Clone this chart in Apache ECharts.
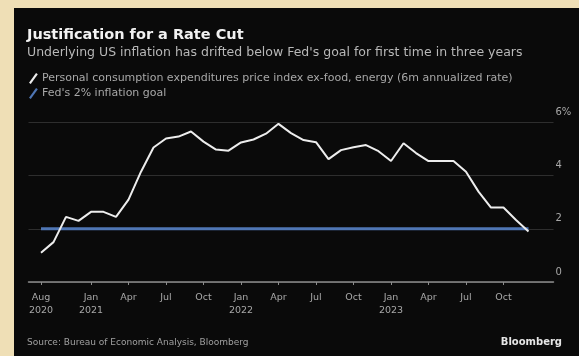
<!DOCTYPE html>
<html>
<head>
<meta charset="utf-8">
<script src="https://cdn.jsdelivr.net/npm/echarts@6/dist/echarts.min.js"></script>
<style>
  html, body { margin: 0; padding: 0; background: #efdfb6; }
  #chart { width: 579px; height: 356px; }
</style>
</head>
<body>
<div id="chart"></div>
<script>
// months of the monthly readings (plotted at month end)
const months = [
  '2020-08', '2020-09', '2020-10', '2020-11', '2020-12',
  '2021-01', '2021-02', '2021-03', '2021-04', '2021-05', '2021-06',
  '2021-07', '2021-08', '2021-09', '2021-10', '2021-11', '2021-12',
  '2022-01', '2022-02', '2022-03', '2022-04', '2022-05', '2022-06',
  '2022-07', '2022-08', '2022-09', '2022-10', '2022-11', '2022-12',
  '2023-01', '2023-02', '2023-03', '2023-04', '2023-05', '2023-06',
  '2023-07', '2023-08', '2023-09', '2023-10', '2023-11'
]
// core PCE, 6m annualized rate (%)
const corePce = [
  1.1, 1.5, 2.45, 2.3, 2.64,
  2.64, 2.45, 3.1, 4.15, 5.06, 5.4,
  5.47, 5.66, 5.28, 4.98, 4.94, 5.25,
  5.36, 5.58, 5.95, 5.6, 5.34, 5.26,
  4.62, 4.96, 5.07, 5.15, 4.92, 4.55,
  5.22, 4.85, 4.55, 4.55, 4.55, 4.15,
  3.4, 2.8, 2.8, 2.33, 1.9
]
// Fed's 2% goal, drawn across the data span
const fedGoal = [['2020-08', 2], ['2023-11', 2]]
// empty slots either side of the data
const padBefore = ['2020-07']
const padAfter = ['2023-12', '2024-01']
// tick labels (month-end point = start of the next month)
const tickLabels = {
  '2020-08': 'Aug\n2020',
  '2020-12': 'Jan\n2021',
  '2021-03': 'Apr',
  '2021-06': 'Jul',
  '2021-09': 'Oct',
  '2021-12': 'Jan\n2022',
  '2022-03': 'Apr',
  '2022-06': 'Jul',
  '2022-09': 'Oct',
  '2022-12': 'Jan\n2023',
  '2023-03': 'Apr',
  '2023-06': 'Jul',
  '2023-09': 'Oct'
}
const yTicks = [0, 2, 4, 6]

const categories = padBefore.concat(months, padAfter)
const pceData = months.map((m, i) => [m, corePce[i]])

const chart = echarts.init(document.getElementById('chart'))
const slash = 'path://M0,11 L8,0 L10,1.5 L2,12.5 Z'

chart.setOption({
  backgroundColor: '#efdfb6',
  animation: false,
  textStyle: { fontFamily: 'DejaVu Sans' },
  graphic: [
    { type: 'rect', left: 14, top: 8, shape: { width: 565, height: 348 }, style: { fill: '#0a0a0a' }, z: -10 }
  ],
  title: [
    {
      text: 'Justification for a Rate Cut',
      subtext: "Underlying US inflation has drifted below Fed's goal for first time in three years",
      left: 22,
      top: 23,
      itemGap: 3,
      textStyle: { color: '#f2f2f2', fontSize: 14.5, fontWeight: 'bold' },
      subtextStyle: { color: '#b8b8b8', fontSize: 12.5 }
    },
    {
      text: 'Source: Bureau of Economic Analysis, Bloomberg',
      left: 22,
      top: 333,
      textStyle: { color: '#a0a0a0', fontSize: 9, fontWeight: 'normal' }
    },
    {
      text: 'Bloomberg',
      right: 12,
      top: 332,
      textStyle: { color: '#e6e6e6', fontSize: 10, fontWeight: 'bold' }
    }
  ],
  legend: {
    orient: 'vertical',
    left: 24,
    top: 68,
    itemWidth: 9,
    itemHeight: 11,
    itemGap: 4,
    textStyle: { color: '#a8a8a8', fontSize: 11, padding: [0, 0, 0, -1] },
    data: [
      { name: 'Personal consumption expenditures price index ex-food, energy (6m annualized rate)', icon: slash },
      { name: "Fed's 2% inflation goal", icon: slash }
    ]
  },
  grid: { left: 28.5, right: 25.5, top: 122.5, bottom: 74 },
  xAxis: {
    type: 'category',
    data: categories,
    boundaryGap: false,
    axisLine: { lineStyle: { color: '#8c8c8c', width: 1.5 } },
    axisTick: {
      interval: (i, v) => v in tickLabels,
      length: 3,
      lineStyle: { color: '#8c8c8c' }
    },
    axisLabel: {
      interval: (i, v) => v in tickLabels,
      formatter: v => tickLabels[v] || '',
      color: '#a8a8a8',
      fontSize: 9.5,
      lineHeight: 13,
      margin: 9
    },
    splitLine: { show: false }
  },
  yAxis: {
    type: 'value',
    position: 'right',
    min: 0,
    max: 6,
    interval: 2,
    axisLine: { show: false },
    axisTick: { show: false },
    axisLabel: {
      formatter: v => (v === yTicks[yTicks.length - 1] ? v + '%' : String(v)),
      color: '#a8a8a8',
      fontSize: 10,
      align: 'left',
      verticalAlign: 'bottom',
      margin: 2,
      padding: [0, 0, 5, 0]
    },
    splitLine: { lineStyle: { color: '#2e2e2e', width: 1 } }
  },
  series: [
    {
      name: "Fed's 2% inflation goal",
      type: 'line',
      data: fedGoal,
      symbol: 'none',
      color: '#4f76b4',
      lineStyle: { color: '#4f76b4', width: 3 },
      z: 2
    },
    {
      name: 'Personal consumption expenditures price index ex-food, energy (6m annualized rate)',
      type: 'line',
      data: pceData,
      symbol: 'none',
      color: '#ededed',
      lineStyle: { color: '#ededed', width: 2 },
      z: 3
    }
  ]
})
</script>
</body>
</html>
